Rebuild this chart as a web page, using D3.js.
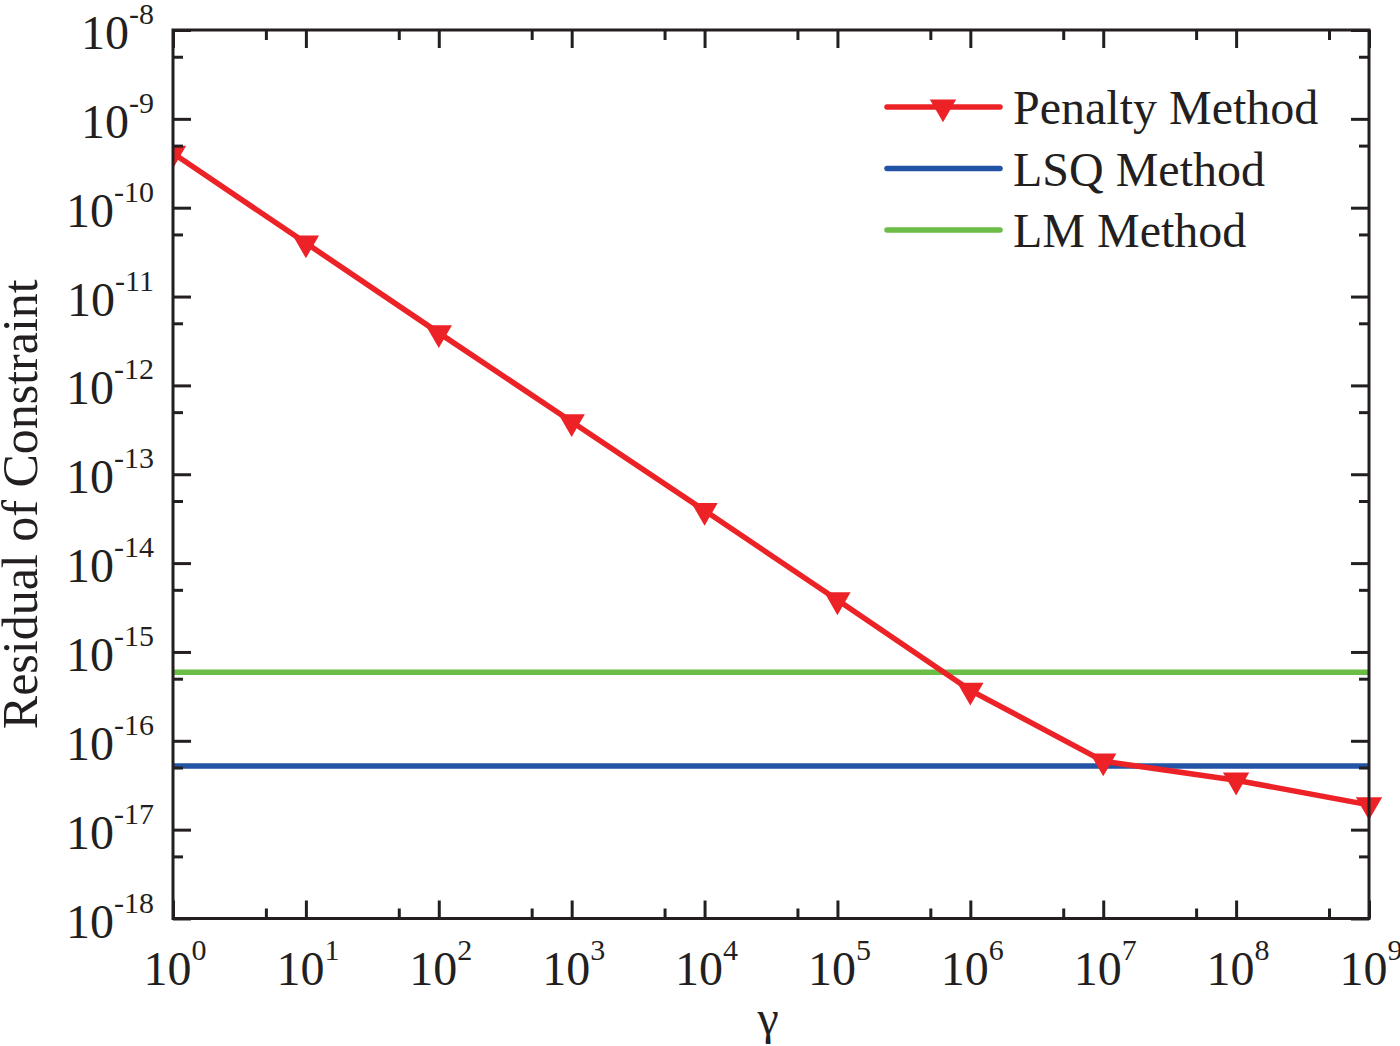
<!DOCTYPE html>
<html>
<head>
<meta charset="utf-8">
<script src="https://cdn.jsdelivr.net/npm/d3@7"></script>
<style>
  body { margin: 0; background: #fff; }
  svg { display: block; }
  text { font-family: "Liberation Serif", "Times New Roman", serif; fill: #231f20; }
</style>
</head>
<body>
<svg id="chart" width="1400" height="1046"></svg>
<script>
// data
var gamma = [1e0, 1e1, 1e2, 1e3, 1e4, 1e5, 1e6, 1e7, 1e8, 1e9];
var penalty = [4.1e-10, 4.0e-11, 3.9e-12, 3.9e-13, 3.9e-14, 3.85e-15, 3.7e-16, 5.9e-17, 3.6e-17, 1.9e-17];
var lsqLevel = [5.2e-17];
var lmLevel = [5.9e-16];

var xExps = [0, 1, 2, 3, 4, 5, 6, 7, 8, 9];
var yExps = [-18, -17, -16, -15, -14, -13, -12, -11, -10, -9, -8];

var series = [
    {name: 'Penalty Method', color: '#ec2227', marker: true},
    {name: 'LSQ Method', color: '#2353a5', marker: false},
    {name: 'LM Method', color: '#6bbd45', marker: false}
];

var margin = {left: 173, top: 30, right: 1400 - 1369, bottom: 1046 - 918.5};
var width = 1400 - margin.left - margin.right;
var height = 1046 - margin.top - margin.bottom;

var svg = d3.select('#chart');
var g = svg.append('g').attr('transform', 'translate(' + margin.left + ',' + margin.top + ')');

var x = d3.scaleLog().domain([1e0, 1e9]).range([0, width]);
var y = d3.scaleLog().domain([1e-18, 1e-8]).range([height, 0]);

var xMajor = xExps.map(function(e){ return Math.pow(10, e); });
var xMinor = xExps.slice(0, -1).map(function(e){ return 5 * Math.pow(10, e); });
var yMajor = yExps.map(function(e){ return Math.pow(10, e); });
var yMinor = yExps.slice(0, -1).map(function(e){ return 5 * Math.pow(10, e); });

// clip only the left edge (first marker is cut by the axis in the original)
g.append('clipPath').attr('id', 'clip')
    .append('rect').attr('x', 0).attr('y', -40).attr('width', width + 60).attr('height', height + 80);

var plot = g.append('g').attr('clip-path', 'url(#clip)');

// horizontal reference levels
plot.append('line')
    .attr('x1', x(1e0)).attr('x2', x(1e9))
    .attr('y1', y(lmLevel[0])).attr('y2', y(lmLevel[0]))
    .attr('stroke', series[2].color).attr('stroke-width', 5.5);
plot.append('line')
    .attr('x1', x(1e0)).attr('x2', x(1e9))
    .attr('y1', y(lsqLevel[0])).attr('y2', y(lsqLevel[0]))
    .attr('stroke', series[1].color).attr('stroke-width', 5.5);

var line = d3.line()
    .x(function(d, i){ return x(gamma[i]); })
    .y(function(d){ return y(d); });

plot.append('path')
    .datum(penalty)
    .attr('d', line)
    .attr('fill', 'none')
    .attr('stroke', series[0].color)
    .attr('stroke-width', 5.5)
    .attr('stroke-linejoin', 'round');

var tri = d3.symbol().type(d3.symbolTriangle).size(300);
plot.selectAll('.marker').data(penalty).enter().append('path')
    .attr('class', 'marker')
    .attr('d', tri)
    .attr('transform', function(d, i){ return 'translate(' + x(gamma[i]) + ',' + y(d) + ') rotate(180)'; })
    .attr('fill', series[0].color);

// axes: ticks point inward on all four sides
function styleAxis(sel){
    sel.select('.domain').remove();
    sel.selectAll('line').attr('stroke', '#231f20').attr('stroke-width', 3);
    sel.selectAll('text').remove();
}

g.append('g').attr('transform', 'translate(0,' + height + ')')
    .call(d3.axisBottom(x).tickValues(xMajor).tickSize(-18).tickFormat('')).call(styleAxis);
g.append('g').attr('transform', 'translate(0,' + height + ')')
    .call(d3.axisBottom(x).tickValues(xMinor).tickSize(-10).tickFormat('')).call(styleAxis);
g.append('g')
    .call(d3.axisTop(x).tickValues(xMajor).tickSize(-18).tickFormat('')).call(styleAxis);
g.append('g')
    .call(d3.axisTop(x).tickValues(xMinor).tickSize(-10).tickFormat('')).call(styleAxis);
g.append('g')
    .call(d3.axisLeft(y).tickValues(yMajor).tickSize(-18).tickFormat('')).call(styleAxis);
g.append('g')
    .call(d3.axisLeft(y).tickValues(yMinor).tickSize(-10).tickFormat('')).call(styleAxis);
g.append('g').attr('transform', 'translate(' + width + ',0)')
    .call(d3.axisRight(y).tickValues(yMajor).tickSize(-18).tickFormat('')).call(styleAxis);
g.append('g').attr('transform', 'translate(' + width + ',0)')
    .call(d3.axisRight(y).tickValues(yMinor).tickSize(-10).tickFormat('')).call(styleAxis);

g.append('rect')
    .attr('width', width).attr('height', height)
    .attr('fill', 'none').attr('stroke', '#231f20').attr('stroke-width', 3);

// tick labels, 10 with superscript exponent
var xl = g.selectAll('.xlabel').data(xExps).enter().append('text')
    .attr('class', 'xlabel')
    .attr('x', function(e){ return x(Math.pow(10, e)) + 2; })
    .attr('y', height + 66)
    .attr('text-anchor', 'middle')
    .style('font-size', '48px');
xl.append('tspan').text('10');
xl.append('tspan').attr('dy', -25).style('font-size', '30px').text(function(e){ return e; });

var yl = g.selectAll('.ylabel').data(yExps).enter().append('text')
    .attr('class', 'ylabel')
    .attr('x', -19)
    .attr('y', function(e){ return y(Math.pow(10, e)) + 19; })
    .attr('text-anchor', 'end')
    .style('font-size', '48px');
yl.append('tspan').text('10');
yl.append('tspan').attr('dy', -25).style('font-size', '30px').text(function(e){ return e; });

// axis titles
svg.append('text')
    .attr('transform', 'translate(37,' + (margin.top + height / 2 + 30) + ') rotate(-90)')
    .attr('text-anchor', 'middle')
    .style('font-size', '50px')
    .text('Residual of Constraint');

svg.append('text')
    .attr('x', margin.left + width / 2 - 3)
    .attr('y', 1034)
    .attr('text-anchor', 'middle')
    .style('font-size', '48px')
    .text('\u03b3');

// legend
var legend = svg.append('g').attr('transform', 'translate(887,107)');
var rows = legend.selectAll('.row').data(series).enter().append('g')
    .attr('class', 'row')
    .attr('transform', function(d, i){ return 'translate(0,' + i * 61.5 + ')'; });
rows.append('line')
    .attr('x1', 0).attr('x2', 113)
    .attr('stroke', function(d){ return d.color; })
    .attr('stroke-width', 5.5)
    .attr('stroke-linecap', 'round');
rows.filter(function(d){ return d.marker; }).append('path')
    .attr('d', tri)
    .attr('transform', 'translate(56,0) rotate(180)')
    .attr('fill', function(d){ return d.color; });
rows.append('text')
    .attr('x', 126)
    .attr('y', 17)
    .style('font-size', '48px')
    .text(function(d){ return d.name; });
</script>
</body>
</html>
